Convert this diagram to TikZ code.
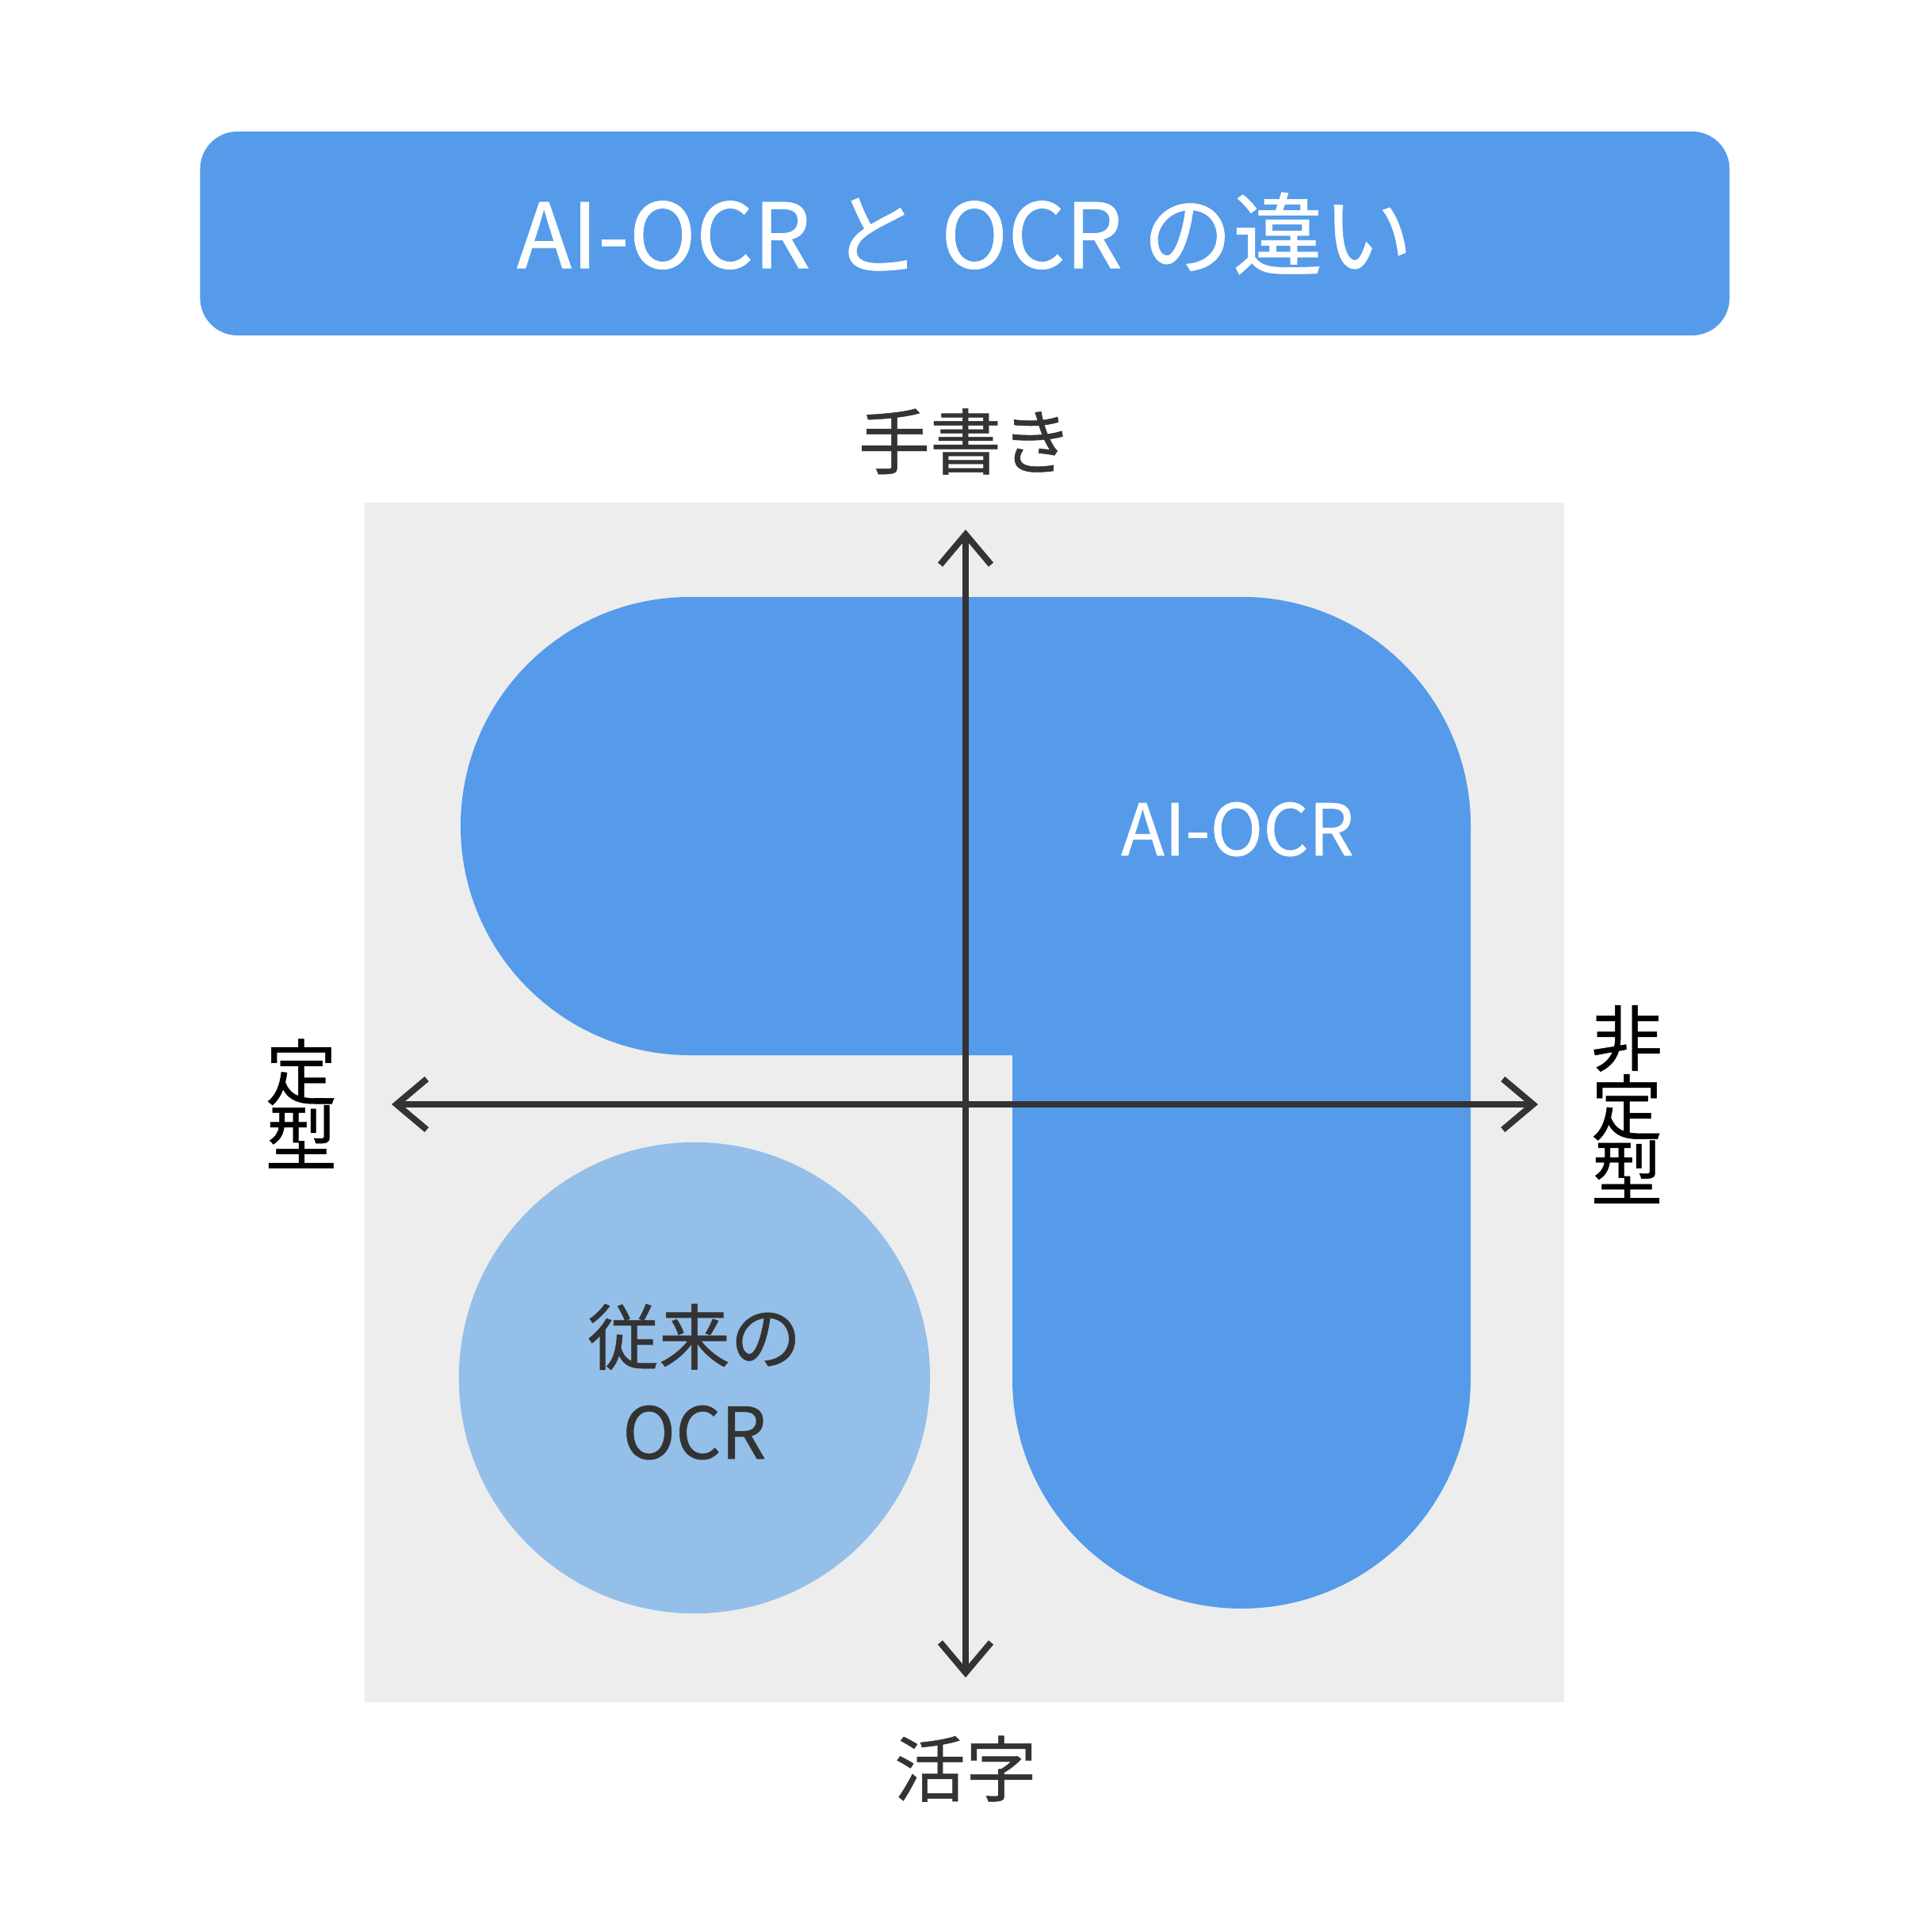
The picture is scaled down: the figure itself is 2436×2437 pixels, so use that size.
\documentclass[tikz,border=0pt]{standalone}
\usepackage{fontspec}
\setmainfont{Noto Sans CJK JP}[FakeBold=0.6]
\usetikzlibrary{arrows.meta}
\usetikzlibrary{positioning}
\definecolor{ocrblue}{RGB}{85,155,233}
\definecolor{oldblue}{RGB}{148,191,232}
\definecolor{bggray}{RGB}{237,237,237}
\definecolor{axisgray}{RGB}{51,51,51}

\begin{document}
\begin{tikzpicture}[x=0.01cm,y=-0.01cm,
  titlebox/.style={fill=ocrblue,rounded corners=0.47cm,minimum width=19.28cm,minimum height=2.57cm,inner sep=0pt,text=white,font=\fontsize{32.3}{36}\selectfont},
  axislabel/.style={inner sep=0pt,align=center,text=axisgray,font=\fontsize{25.6}{23.6}\selectfont},
  sidelabel/.style={axislabel,text=black},
  arealabel/.style={inner sep=0pt,align=center,font=\fontsize{25.6}{34}\selectfont},
  axisline/.style={draw=axisgray,line width=0.08cm,{Straight Barb[length=0.38cm,width=0.64cm]}-{Straight Barb[length=0.38cm,width=0.64cm]}}]
  \useasboundingbox (0,0) rectangle (2436,2437);

  \node[titlebox] (title) at (1217,294.5) {AI-OCR と OCR の違い};

  \fill[bggray] (460,634) rectangle (1973,2147);

  % AI-OCR area
  \fill[ocrblue,rounded corners=2.89cm] (581,753) rectangle (1855,1331);
  \fill[ocrblue,rounded corners=2.89cm] (1277,753) rectangle (1855,2029);
  % conventional OCR area
  \fill[oldblue] (876,1738) circle[radius=2.97cm];

  \coordinate (up) at (1218,668);
  \coordinate (down) at (1218,2116);
  \coordinate (left) at (494,1393);
  \coordinate (right) at (1940,1393);
  \draw[axisline] (down) -- (up);
  \draw[axisline] (left) -- (right);

  \node[axislabel] (hand) at (1218,557) {手書き};
  \node[axislabel] (print) at (1218,2231) {活字};
  \node[sidelabel] (fixed) at (380,1392) {定\\型};
  \node[sidelabel] (free) at (2052,1393) {非\\定\\型};

  \node[arealabel,text=white] (ai) at (1561,1046) {AI-OCR};
  \node[arealabel,text=axisgray] (old) at (876,1743) {従来の\\OCR};
\end{tikzpicture}
\end{document}
